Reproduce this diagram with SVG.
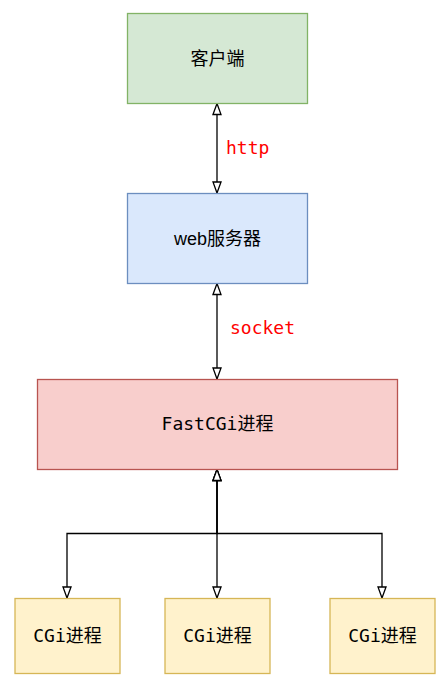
<svg xmlns="http://www.w3.org/2000/svg" width="447" height="691" viewBox="0 0 447 691">
<style>
.box{stroke-width:1.3}
.green{fill:#d5e8d4;stroke:#82b366}
.blue{fill:#dae8fc;stroke:#6c8ebf}
.red{fill:#f8cecc;stroke:#b85450}
.yellow{fill:#fff2cc;stroke:#d6b656}
.lbl{font-size:18px;fill:#000;text-anchor:middle}
.cjk{font-family:"Noto Sans CJK SC",sans-serif}
.sans{font-family:"Liberation Sans","Noto Sans CJK SC",sans-serif}
.mono{font-family:"DejaVu Sans Mono","Noto Sans CJK SC",monospace}
.elbl{font-family:"DejaVu Sans Mono",monospace;font-size:18px;fill:#ff0000}
.edge{fill:none;stroke:#000;stroke-width:1.3;marker-start:url(#arr);marker-end:url(#arr)}
.edge1{fill:none;stroke:#000;stroke-width:1.3;marker-end:url(#arr)}
</style>
<defs>
<marker id="arr" markerUnits="userSpaceOnUse" viewBox="0 0 13 10" refX="12" refY="5" markerWidth="13" markerHeight="10" orient="auto-start-reverse">
<path d="M1,1 L12,5 L1,9 Z" fill="#fff" stroke="#000" stroke-width="1.3"/>
</marker>
</defs>
<rect width="447" height="691" fill="#fff"/>
<g id="connectors">
<path class="edge" d="M217,103.5 L217,193"/>
<path class="edge" d="M217,283.5 L217,379"/>
<path class="edge" d="M217,469.5 L217,533.5 L67,533.5 L67,598"/>
<path class="edge" d="M217,469.5 L217,598"/>
<path class="edge" d="M217,469.5 L217,533.5 L382,533.5 L382,598"/>
<text class="elbl" x="226" y="154">http</text>
<text class="elbl" x="230" y="334">socket</text>
</g>
<g id="client">
<rect class="box green" x="127.5" y="13.5" width="180" height="90"/>
<text class="lbl cjk" x="217.5" y="64.5">客户端</text>
</g>
<g id="web">
<rect class="box blue" x="127.5" y="193.5" width="180" height="90"/>
<text class="lbl sans" x="217.5" y="244.5">web服务器</text>
</g>
<g id="fastcgi">
<rect class="box red" x="37.5" y="379.5" width="360" height="90"/>
<text class="lbl mono" x="217.5" y="430">FastCGi进程</text>
</g>
<g id="cgi1">
<rect class="box yellow" x="15" y="598.5" width="105" height="75"/>
<text class="lbl mono" x="67.5" y="641.5">CGi进程</text>
</g>
<g id="cgi2">
<rect class="box yellow" x="165" y="598.5" width="105" height="75"/>
<text class="lbl mono" x="217.5" y="641.5">CGi进程</text>
</g>
<g id="cgi3">
<rect class="box yellow" x="330" y="598.5" width="105" height="75"/>
<text class="lbl mono" x="382.5" y="641.5">CGi进程</text>
</g>
</svg>
